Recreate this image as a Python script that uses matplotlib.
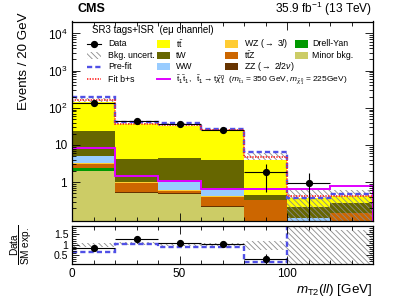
import numpy as np
import matplotlib
matplotlib.use("Agg")
import matplotlib.pyplot as plt
from matplotlib.patches import Rectangle
from matplotlib.lines import Line2D
from matplotlib.ticker import FixedLocator, FixedFormatter, MultipleLocator, LogLocator, NullFormatter

plt.rcParams['font.family'] = ['Liberation Sans', 'DejaVu Sans']
plt.rcParams['mathtext.fontset'] = 'custom'
plt.rcParams['mathtext.rm'] = 'Liberation Sans'
plt.rcParams['mathtext.it'] = 'Liberation Sans:italic'
plt.rcParams['mathtext.bf'] = 'Liberation Sans:bold'
plt.rcParams['hatch.linewidth'] = 0.6

# bins of mT2(ll)
edges = [0, 20, 40, 60, 80, 100, 120, 140]
centers = [10, 30, 50, 70, 90, 110, 130]

# post-fit background stack (bottom to top)
minor = [2.0, 0.52, 0.48, 0.22, 0.02, 0.0, 0.0]
dy = [0.4, 0.0, 0.0, 0.0, 0.0, 0.0, 0.0]
zz = [0.05, 0.02, 0.02, 0.01, 0.01, 0.0, 0.0]
ttz = [0.7, 0.42, 0.09, 0.16, 0.30, 0.0, 0.15]
wz = [0.05, 0.02, 0.02, 0.02, 0.0, 0.0, 0.0]
ww = [1.7, 0.02, 0.41, 0.21, 0.0, 0.11, 0.0]
tw = [18.4, 3.1, 3.4, 3.25, 0.11, 0.11, 0.12]
tt = [120, 32.6, 28.6, 20.5, 3.45, 0.15, 0.14]

prefit = [195, 41, 39, 27.5, 6.3, 0.37, 0.48]
fitbs = [165, 37.5, 34, 25, 4.7, 0.43, 0.43]
unc_lo = [143, 36.7, 33, 24.4, 3.9, 0.01, 0.01]
unc_hi = [185, 40, 38, 27, 6.0, 0.61, 0.61]
signal = [8.5, 1.43, 1.06, 0.65, 0.65, 0.66, 0.77]

data = [138, 44, 37.5, 25.8, 1.9, 0.92, np.nan]
data_err_lo = [11.5, 6.6, 6.1, 5.1, 1.36, 0.91, np.nan]
data_err_hi = [12.5, 7.2, 6.6, 5.6, 1.1, 0.87, np.nan]

# ratio panel
ratio = [0.84, 1.26, 1.09, 1.02, 0.31, np.nan, np.nan]
ratio_err = [0.08, 0.16, 0.14, 0.15, 0.24, np.nan, np.nan]
prefit_ratio = [0.66, 1.06, 0.90, 0.90, 0.18, 3.0, 3.0]
ratio_unc_lo = [0.90, 1.00, 0.94, 0.94, 0.77, 0.0, 0.0]
ratio_unc_hi = [1.08, 1.15, 1.10, 1.10, 1.18, 2.0, 1.7]

components = [
    (minor, '#cccc66', 'Minor bkg.'),
    (dy, '#009900', 'Drell-Yan'),
    (zz, '#663300', r'ZZ ($\rightarrow$ 2$l$2$\nu$)'),
    (ttz, '#cc6600', r't$\bar{\mathrm{t}}$Z'),
    (wz, '#ffcc33', r'WZ ($\rightarrow$ 3$l$)'),
    (ww, '#99ccff', 'WW'),
    (tw, '#666600', 'tW'),
    (tt, '#ffff00', r't$\bar{\mathrm{t}}$'),
]

W, H = 399, 301
fig = plt.figure(figsize=(W / 100, H / 100), dpi=100)


def P(x, y):
    return (x / W, 1 - y / H)


ax = fig.add_axes([72 / W, 1 - 221 / H, 301 / W, 199.5 / H])
axr = fig.add_axes([72 / W, 1 - 263.5 / H, 301 / W, 37.5 / H])

ymin = 0.09
base = np.full(len(centers), 1e-3)
for vals, col, lab in components:
    top = base + np.array(vals)
    ax.stairs(top, edges, baseline=base, fill=True, color=col, lw=0)
    base = top

ax.stairs(unc_hi, edges, baseline=unc_lo, fill=True, facecolor='none',
          edgecolor='#8a8a8a', hatch='\\' * 6, lw=0)
ax.stairs(prefit, edges, baseline=None, color='#5050e6', lw=1.7, ls=(0, (2.2, 1.3)))
ax.stairs(fitbs, edges, baseline=None, color='#ff2020', lw=1.2, ls=(0, (0.8, 0.8)))
ax.stairs(signal, edges, baseline=1e-3, color='#e000ff', lw=1.4)
ax.errorbar(centers, data, xerr=10, yerr=[data_err_lo, data_err_hi], fmt='o',
            color='black', ms=4.2, lw=0.8, capsize=0)

ax.set_yscale('log')
ax.set_ylim(ymin, 2.1e4)
ax.set_xlim(0, 140)
ax.yaxis.set_major_locator(FixedLocator([1, 10, 100, 1e3, 1e4]))
ax.yaxis.set_major_formatter(FixedFormatter(['1', '10', '$10^{2}$', '$10^{3}$', '$10^{4}$']))
ax.yaxis.set_minor_locator(LogLocator(subs=np.arange(2, 10)))
ax.yaxis.set_minor_formatter(NullFormatter())

# ratio panel
axr.stairs(ratio_unc_hi, edges, baseline=ratio_unc_lo, fill=True, facecolor='none',
           edgecolor='#8a8a8a', hatch='\\' * 6, lw=0)
axr.stairs(prefit_ratio, edges, baseline=None, color='#5050e6', lw=1.7, ls=(0, (2.2, 1.3)))
axr.errorbar(centers, ratio, xerr=10, yerr=ratio_err, fmt='o', color='black',
             ms=4.2, lw=0.8, capsize=0)
axr.set_xlim(0, 140)
axr.set_ylim(0.1, 1.9)
axr.yaxis.set_major_locator(FixedLocator([0.5, 1, 1.5]))
axr.yaxis.set_major_formatter(FixedFormatter(['0.5', '1', '1.5']))
axr.yaxis.set_minor_locator(MultipleLocator(0.1))

for a in (ax, axr):
    a.xaxis.set_major_locator(MultipleLocator(50))
    a.xaxis.set_minor_locator(MultipleLocator(10))
    a.tick_params(which='both', direction='in', top=True, right=True, width=0.6, labelsize=8.5)
    a.tick_params(which='major', length=6)
    a.tick_params(which='minor', length=3)
    for s in a.spines.values():
        s.set_linewidth(0.9)
ax.tick_params(axis='x', labelbottom=False)
axr.tick_params(axis='y', which='major', length=5, labelsize=7.6, pad=2.5)

# texts
fig.text(*P(77, 12.5), 'CMS', fontsize=9.0, fontweight='bold', va='baseline', ha='left')
fig.text(*P(372, 12.5), r'35.9 fb$^{-1}$ (13 TeV)', fontsize=8.6, va='baseline', ha='right')
fig.text(*P(92, 30), 'SR3 tags+ISR  (eμ channel)', fontsize=7.0, va='center', ha='left')
fig.text(*P(24, 13), 'Events / 20 GeV', fontsize=9.6, rotation=90, va='top', ha='center')
fig.text(*P(21, 245), r'$\dfrac{\mathrm{Data}}{\mathrm{SM\ exp.}}$', fontsize=7.3,
         rotation=90, va='center', ha='center')
fig.text(*P(372, 290), r'$m_{\mathrm{T2}}(ll)$ [GeV]', fontsize=9.6, va='center', ha='right')

# legend drawn by hand
fs = 6.3


def box(x0, yc, color, hatch=None):
    if hatch:
        r = Rectangle(P(x0, yc + 3.5), 14 / W, 7 / H, transform=fig.transFigure,
                      facecolor='none', edgecolor='#8a8a8a', hatch=hatch, lw=0)
    else:
        r = Rectangle(P(x0, yc + 3.5), 13 / W, 7 / H, transform=fig.transFigure,
                      facecolor=color, edgecolor='none')
    fig.add_artist(r)


def line(x0, x1, yc, **kw):
    fig.add_artist(Line2D([x0 / W, x1 / W], [1 - yc / H, 1 - yc / H],
                          transform=fig.transFigure, **kw))


rows = [44, 55.3, 66.6, 79.3]
# column 1
line(87, 101, rows[0], color='black', lw=0.8)
fig.add_artist(Line2D([94 / W], [1 - rows[0] / H], marker='o', color='black', ms=4.2,
                      transform=fig.transFigure))
fig.text(*P(108, rows[0]), 'Data', fontsize=fs, va='center')
box(87, rows[1], None, hatch='\\' * 6)
fig.text(*P(108, rows[1]), 'Bkg. uncert.', fontsize=fs, va='center')
line(87, 101, rows[2], color='#5050e6', lw=1.7, ls=(0, (2.2, 1.3)))
fig.text(*P(108, rows[2]), 'Pre-fit', fontsize=fs, va='center')
line(87, 101, rows[3], color='#ff2020', lw=1.2, ls=(0, (0.8, 0.8)))
fig.text(*P(108, rows[3]), 'Fit b+s', fontsize=fs, va='center')

legend_cols = [
    (157, 176, [components[7], components[6], components[5]]),
    (225, 244, [components[4], components[3], components[2]]),
    (295, 312, [components[1], components[0]]),
]
for bx, tx, items in legend_cols:
    for i, (vals, col, lab) in enumerate(items):
        box(bx, rows[i], col)
        fig.text(*P(tx, rows[i]), lab, fontsize=fs, va='center')

line(157, 170, rows[3], color='#e000ff', lw=1.4)
fig.text(*P(176, rows[3] + 0.5),
         r'$\tilde{\mathrm{t}}_{1}\tilde{\mathrm{t}}_{1},\ \ \tilde{\mathrm{t}}_{1}\rightarrow'
         r'\mathrm{t}\tilde{\chi}^{0}_{1}$  ($m_{\tilde{\mathrm{t}}_{1}}$ = 350 GeV, '
         r'$m_{\tilde{\chi}^{0}_{1}}$ = 225GeV)', fontsize=6.0, va='center')

fig.savefig('out.png', dpi=100)
